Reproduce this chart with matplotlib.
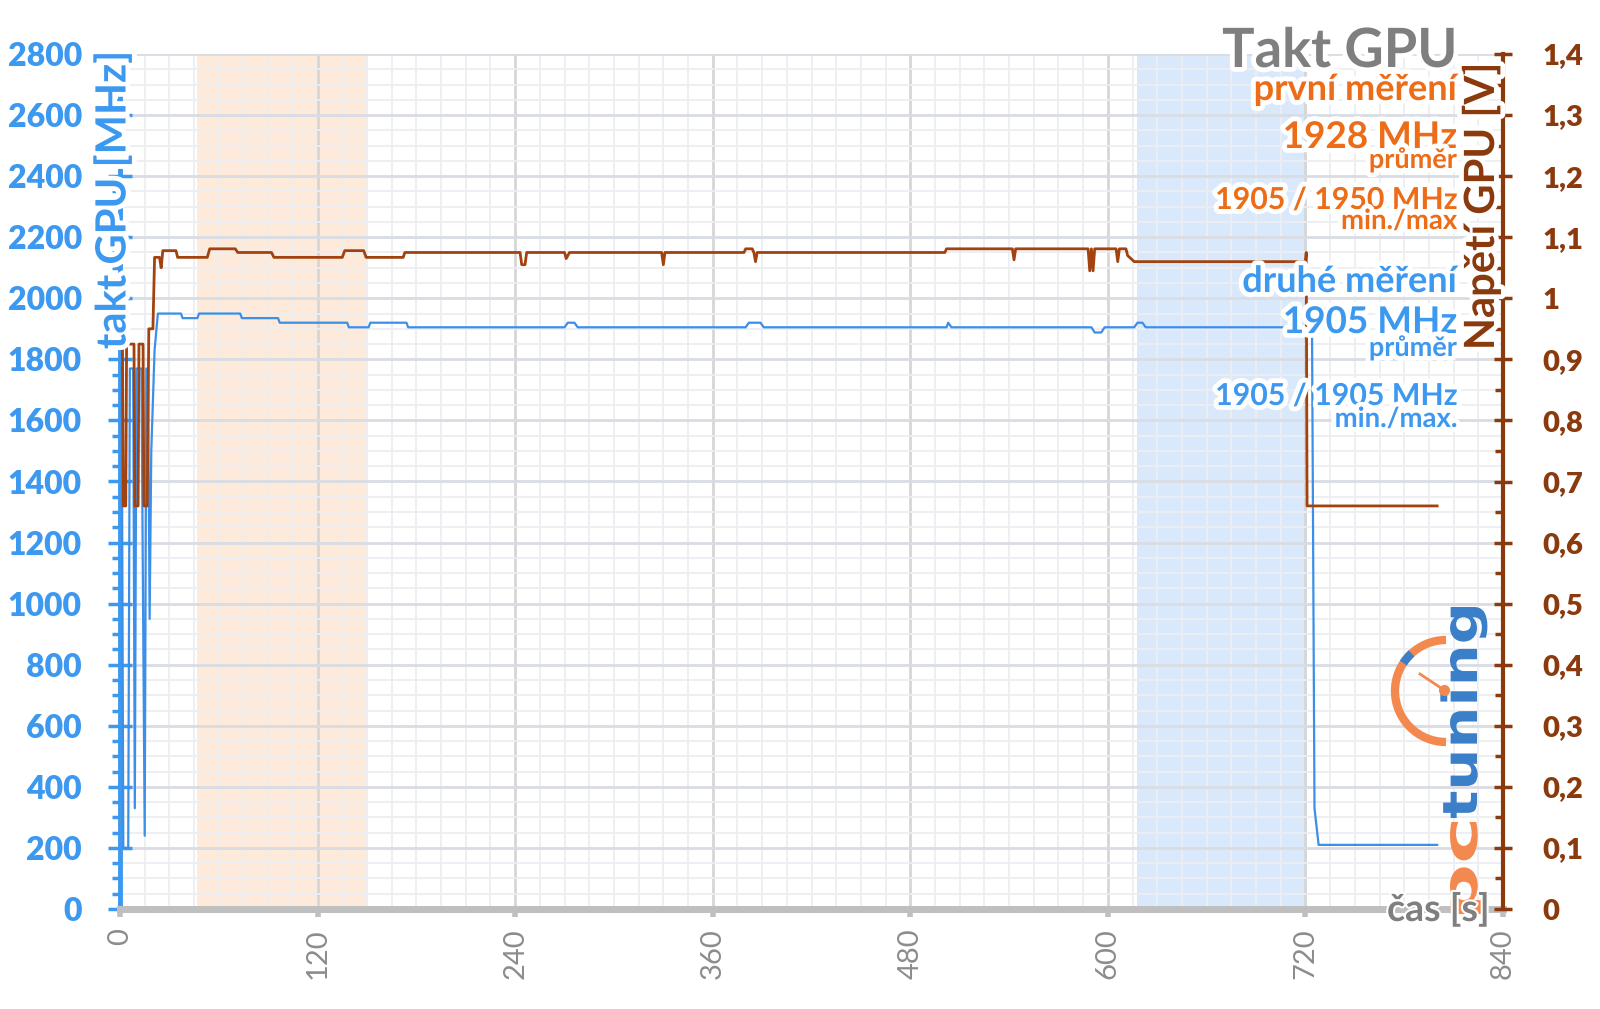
#!/usr/bin/env python3
"""GPU clock (MHz) and GPU voltage (V) over time, two measurement windows shaded."""

import matplotlib

matplotlib.use("Agg")
import matplotlib.pyplot as plt
import matplotlib.patheffects as pe
from matplotlib.font_manager import FontProperties
from matplotlib.patches import Arc, PathPatch
from matplotlib.textpath import TextPath
from matplotlib.ticker import MultipleLocator
from matplotlib.transforms import Affine2D

# ---- data ------------------------------------------------------------------
clock_t = [0, 1, 2, 5, 6, 8, 9, 10, 13, 15, 16, 17, 18, 19, 21, 23,
           37, 38, 47, 48, 73, 74, 96, 97, 138, 139, 151, 152, 174, 175,
           270, 272, 276, 278, 380, 382, 389, 391, 502, 503, 505,
           590, 592, 596, 598, 616, 618, 621, 623, 724, 725.5, 728, 800]
clock_mhz = [1770, 1770, 200, 200, 1770, 1770, 330, 1770, 1770, 240, 1770, 1770, 950, 1500, 1830, 1950,
             1950, 1935, 1935, 1950, 1950, 1935, 1935, 1920, 1920, 1905, 1905, 1920, 1920, 1905,
             1905, 1920, 1920, 1905, 1905, 1920, 1920, 1905, 1905, 1920, 1905,
             1905, 1888, 1888, 1905, 1905, 1920, 1920, 1905, 1905, 330, 210, 210]

volt_t = [0, 1.5, 2, 3.5, 4, 8.5, 9, 11, 11.5, 14, 14.5, 16.5, 17.5, 20, 21,
          24, 25, 26, 34, 35, 53, 54.5, 70, 71.5, 92, 93.5, 135, 136.5, 148, 149.5,
          172, 173, 243, 244, 246, 247, 270, 271, 273, 329, 330, 331,
          379, 380, 384, 385, 386, 387, 501, 502, 542, 543, 544,
          588, 589, 590, 591, 592, 605, 606, 607, 611, 612, 616, 720, 720.5, 721, 800]
volt_v = [0.925, 0.925, 0.66, 0.66, 0.925, 0.925, 0.66, 0.66, 0.925, 0.925, 0.66, 0.66, 0.95, 0.95, 1.067,
          1.067, 1.05, 1.078, 1.078, 1.067, 1.067, 1.081, 1.081, 1.075, 1.075, 1.067, 1.067, 1.078, 1.078, 1.067,
          1.067, 1.075, 1.075, 1.055, 1.055, 1.075, 1.075, 1.065, 1.075, 1.075, 1.055, 1.075,
          1.075, 1.081, 1.081, 1.075, 1.06, 1.075, 1.075, 1.081, 1.081, 1.063, 1.081,
          1.081, 1.045, 1.081, 1.045, 1.081, 1.081, 1.06, 1.081, 1.081, 1.07, 1.06, 1.06, 1.075, 0.66, 0.66]

first_window = (47, 150)
second_window = (618, 721)

x_ticks = [0, 120, 240, 360, 480, 600, 720, 840]
mhz_ticks = list(range(0, 2801, 200))
volt_ticks = [i / 10 for i in range(0, 15)]
volt_labels = ["0", "0,1", "0,2", "0,3", "0,4", "0,5", "0,6", "0,7",
               "0,8", "0,9", "1", "1,1", "1,2", "1,3", "1,4"]

title = "Takt GPU"
first_lines = ["první měření", "1928 MHz", "průměr", "1905 / 1950 MHz", "min./max"]
second_lines = ["druhé měření", "1905 MHz", "průměr", "1905 / 1905 MHz", "min./max."]

# ---- style -----------------------------------------------------------------
BLUE_TXT = "#3d98ef"
BLUE_LINE = "#3b8fe8"
ORANGE_TXT = "#ec6c17"
BROWN = "#8b3a0e"
BROWN_LINE = "#a1420f"
GRAY_TXT = "#7f7f7f"
FONT = ["Lato", "DejaVu Sans"]

W, H = 1600, 1009
plt.rcParams["font.family"] = FONT


def fx(px):
    return px / W


def fy(py):
    return 1 - py / H


halo = [pe.withStroke(linewidth=7, foreground="white")]

fig = plt.figure(figsize=(W / 100, H / 100), dpi=100)
ax = fig.add_axes([fx(120), fy(909), fx(1503) - fx(120), fy(54) - fy(909)])
ax2 = ax.twinx()

ax.set_xlim(0, 840)
ax.set_ylim(0, 2800)
ax2.set_ylim(0, 1.4)

ax.axvspan(*first_window, color="#fdeadb", zorder=0.2, lw=0)
ax.axvspan(*second_window, color="#d9e9fb", zorder=0.2, lw=0)

# grid
ax.set_axisbelow(True)
ax.xaxis.set_minor_locator(MultipleLocator(15))
ax.yaxis.set_minor_locator(MultipleLocator(50))
ax.grid(which="minor", color="#eceef2", lw=1.3)
ax.grid(which="major", axis="y", color="#d9dce3", lw=2)
ax.grid(which="major", axis="x", color="#d6d6d6", lw=2)

ax.plot(clock_t, clock_mhz, color=BLUE_LINE, lw=1.6, zorder=3)
ax2.plot(volt_t, volt_v, color=BROWN_LINE, lw=2.0, zorder=3)

# spines
for side in ("top", "right"):
    ax.spines[side].set_visible(False)
for side in ("top", "left", "bottom"):
    ax2.spines[side].set_visible(False)
ax.spines["left"].set_color(BLUE_TXT)
ax.spines["left"].set_linewidth(3.5)
ax.spines["bottom"].set_color("#bfbfbf")
ax.spines["bottom"].set_linewidth(5)
ax2.spines["right"].set_color(BROWN)
ax2.spines["right"].set_linewidth(3)

# ticks
ax.set_xticks(x_ticks)
ax.set_xticklabels([str(t) for t in x_ticks], rotation=90, fontsize=21,
                   color="#8c8c8c")
ax.tick_params(axis="x", which="major", direction="out", length=6, width=4,
               color="#bfbfbf", pad=8)
ax.tick_params(axis="x", which="minor", length=0)

ax.set_yticks(mhz_ticks)
ax.set_yticklabels([str(v) for v in mhz_ticks], fontsize=23,
                   fontweight="heavy", color=BLUE_TXT)
ax.tick_params(axis="y", which="major", direction="inout", length=17, width=2.5,
               color=BLUE_TXT, pad=19)
ax.tick_params(axis="y", which="minor", direction="out", length=6, width=2.5,
               color=BLUE_TXT)

ax2.set_yticks(volt_ticks)
ax2.set_yticklabels(volt_labels, fontsize=21, fontweight="heavy", color=BROWN)
ax2.yaxis.set_minor_locator(MultipleLocator(0.05))
ax2.tick_params(axis="y", which="major", direction="inout", length=13, width=2.5,
                color=BROWN, pad=22)
ax2.tick_params(axis="y", which="minor", direction="in", length=6, width=2.5,
                color=BROWN)

# watermark logo: stretched glyph outlines, reading bottom to top
logo_orange = "#f4894f"
logo_blue = "#3a7fc8"
logo_prop = FontProperties(family="DejaVu Sans", weight="bold")


def logo_word(word, y_start, y_end, color):
    path = TextPath((0, 0), word, size=1, prop=logo_prop)
    ext = path.get_extents()
    sx = (y_start - y_end) / ext.width
    tr = (Affine2D().translate(-ext.x0, 0).scale(sx, 27 / 0.56)
          .rotate_deg(90).translate(1477, H - y_start))
    fig.add_artist(PathPatch(path, transform=tr, facecolor=color, lw=0, zorder=4))


logo_word("pc", 914, 822, logo_orange)
logo_word("tuning", 818, 607, logo_blue)
fig.add_artist(Arc((fx(1446), fy(691)), 2 * 51 / W, 2 * 51 / H, theta1=90, theta2=270,
                   transform=fig.transFigure, color=logo_orange, lw=6, zorder=4))
fig.add_artist(Arc((fx(1446), fy(691)), 2 * 51 / W, 2 * 51 / H, theta1=120, theta2=134,
                   transform=fig.transFigure, color=logo_blue, lw=6, zorder=4))
fig.add_artist(plt.Line2D([fx(1444), fx(1420)], [fy(690), fy(674)],
                          transform=fig.transFigure, color=logo_orange, lw=2, zorder=4))
fig.add_artist(plt.Line2D([fx(1444)], [fy(690)], marker="o", ms=7,
                          transform=fig.transFigure, color=logo_orange, zorder=4))

# axis titles
fig.text(fx(113), fy(51), "takt GPU [MHz]", rotation=90, ha="center", va="top",
         fontsize=30, fontweight="bold", color=BLUE_TXT, path_effects=halo, zorder=5)
fig.text(fx(1481), fy(63), "Napětí GPU [V]", rotation=90, ha="center", va="top",
         fontsize=30, fontweight="bold", color=BROWN, path_effects=halo, zorder=5)
fig.text(fx(1490), fy(909), "čas [s]", ha="right", va="center",
         fontsize=27, fontweight="bold", color=GRAY_TXT,
         path_effects=[pe.withStroke(linewidth=3, foreground="white")], zorder=5)

# text block top right
RX = fx(1457)
fig.text(RX, fy(67), title, ha="right", va="baseline", fontsize=39,
         fontweight="bold", color=GRAY_TXT, path_effects=halo, zorder=5)

block_style = [26, 26.5, 19.5, 21.8, 19.8]
first_base = [100, 148, 168, 209, 229]
second_base = [292, 333, 356, 405, 427]
for lines, bases, col in ((first_lines, first_base, ORANGE_TXT),
                          (second_lines, second_base, BLUE_TXT)):
    for txt, base, size in zip(lines, bases, block_style):
        fig.text(RX, fy(base), txt, ha="right", va="baseline", fontsize=size,
                 fontweight="bold", color=col, path_effects=halo, zorder=5)

fig.savefig("out.png", dpi=100)
